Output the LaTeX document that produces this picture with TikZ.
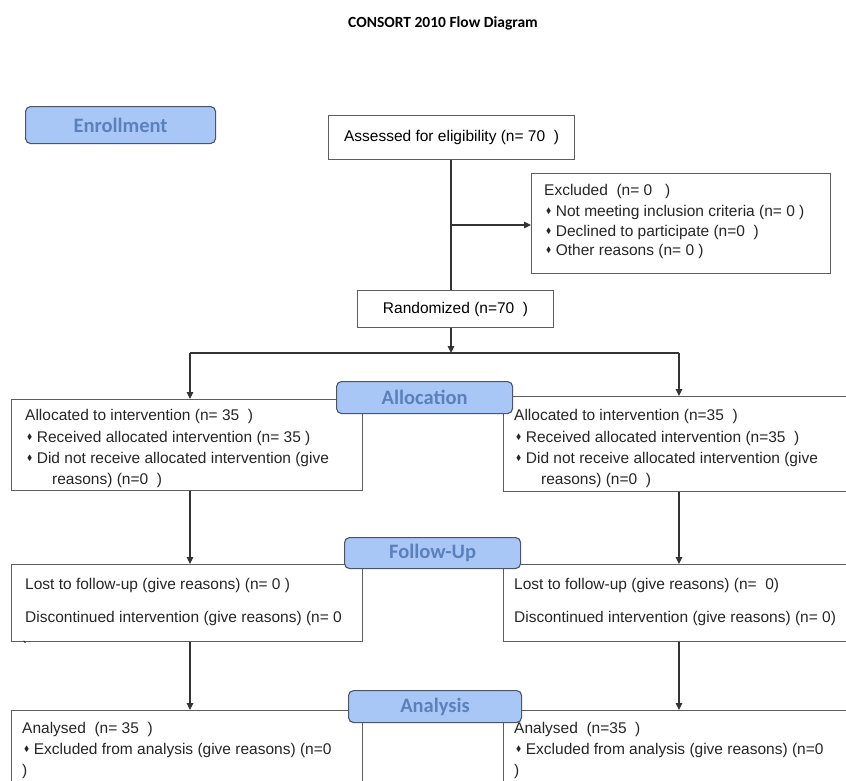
\documentclass[tikz,border=0pt]{standalone}
\usepackage{fontspec}
\usepackage{amssymb}
\setmainfont{Liberation Sans}
\newfontfamily\calfont{Carlito}
\usetikzlibrary{arrows.meta}
\definecolor{phasefill}{HTML}{A9C7F6}
\definecolor{phaseborder}{HTML}{4B5566}
\definecolor{phasetext}{HTML}{5A81BB}
\definecolor{linegray}{HTML}{333333}
\definecolor{boxgray}{HTML}{5E5E5E}
\newcommand{\dia}{\raisebox{0.28ex}{\scalebox{0.5}{$\blacklozenge$}}}
\newcommand{\bl}{\hspace{2pt}\dia\hspace{4.5pt}}
\tikzset{
  databox/.style={draw=boxgray, line width=1.1pt, fill=white, inner sep=0pt, anchor=north west},
  phasebox/.style={draw=phaseborder, fill=phasefill, rounded corners=5pt, line width=1.1pt,
    text=phasetext, font=\calfont\bfseries\fontsize{20.5}{22}\selectfont, inner sep=0pt, anchor=north west},
  txt/.style={anchor=west, inner sep=0pt, font=\fontsize{15.5}{17}\selectfont, text=black!85},
  arr/.style={draw=linegray, line width=1.1pt, -{Triangle[length=7pt,width=6.5pt]}},
  ln/.style={draw=linegray, line width=1.1pt}
}
\begin{document}
\begin{tikzpicture}[x=1pt, y=-1pt]
\path[use as bounding box] (0,0) rectangle (846,780);
\clip (0,0) rectangle (846,780);
\fill[white] (0,0) rectangle (846,780);

% title
\node[font=\calfont\bfseries\fontsize{15.5}{18}\selectfont, inner sep=0pt] (title) at (443,23) {CONSORT 2010 Flow Diagram};

% data boxes
\node[databox, minimum width=246pt, minimum height=44pt, font=\fontsize{15.5}{17}\selectfont] (assess) at (328,115) {Assessed for eligibility (n=~70~~)};
\node[databox, minimum width=299pt, minimum height=100pt] (excl) at (531,173) {};
\node[databox, minimum width=196pt, minimum height=37pt, font=\fontsize{15.5}{17}\selectfont] (rand) at (357,290) {Randomized (n=70~~)};
\node[databox, minimum width=351pt, minimum height=91pt] (allocL) at (11,399) {};
\node[databox, minimum width=380pt, minimum height=95pt] (allocR) at (503,396) {};
\node[databox, minimum width=351pt, minimum height=77pt] (fuL) at (11,564) {};
\node[databox, minimum width=380pt, minimum height=77pt] (fuR) at (503,564) {};
\node[databox, minimum width=351pt, minimum height=100pt] (anL) at (11,710) {};
\node[databox, minimum width=380pt, minimum height=100pt] (anR) at (503,710) {};

% connectors
\coordinate (spine) at (451,225);
\coordinate (split) at (451,353);
\coordinate (splitL) at (190,353);
\coordinate (splitR) at (679,353);
\draw[ln] (assess.south -| spine) -- (rand.north -| spine);
\draw[arr] (spine) -- (excl.west |- spine);
\draw[arr] (rand.south -| spine) -- (split);
\draw[ln] (splitL) -- (splitR);
\draw[arr] (splitL) -- (allocL.north -| splitL);
\draw[arr] (splitR) -- (allocR.north -| splitR);
\draw[arr] (allocL.south -| splitL) -- (fuL.north -| splitL);
\draw[arr] (allocR.south -| splitR) -- (fuR.north -| splitR);
\draw[arr] (fuL.south -| splitL) -- (anL.north -| splitL);
\draw[arr] (fuR.south -| splitR) -- (anR.north -| splitR);

% phase boxes
\node[phasebox, minimum width=190pt, minimum height=37pt] (enroll) at (25,106) {Enrollment};
\node[phasebox, minimum width=176pt, minimum height=32pt] (allocP) at (336,381) {Allocation};
\node[phasebox, minimum width=176pt, minimum height=31pt] (fuP) at (344,537) {Follow-Up};
\node[phasebox, minimum width=173pt, minimum height=32pt] (anP) at (348,690) {Analysis};

% excluded text
\node[txt] (ex1) at (544,191) {Excluded~~(n=~0~~~)};
\node[txt] (ex2) at (544,212) {\bl Not meeting inclusion criteria (n=~0~)};
\node[txt] (ex3) at (544,232) {\bl Declined to participate (n=0~~)};
\node[txt] (ex4) at (544,251) {\bl Other reasons (n=~0~)};

% allocation text
\node[txt] (al1) at (25,416) {Allocated to intervention (n=~35~~)};
\node[txt] (al2) at (25,438) {\bl Received allocated intervention (n=~35~)};
\node[txt] (al3) at (25,459) {\bl Did not receive allocated intervention (give};
\node[txt] (al4) at (52,480) {reasons) (n=0~~)};
\node[txt] (ar1) at (514,416) {Allocated to intervention (n=35~~)};
\node[txt] (ar2) at (514,438) {\bl Received allocated intervention (n=35~~)};
\node[txt] (ar3) at (514,459) {\bl Did not receive allocated intervention (give};
\node[txt] (ar4) at (541,480) {reasons) (n=0~~)};

% follow-up text
\node[txt] (fl1) at (25,585) {Lost to follow-up (give reasons) (n=~0~)};
\node[txt] (fl2) at (25,618) {Discontinued intervention (give reasons) (n=~0};
\begin{scope}
\clip (fuL.north west) rectangle (fuL.south east);
\node[txt] (fl3) at (23,648) {)};
\end{scope}
\node[txt] (fr1) at (514,585) {Lost to follow-up (give reasons) (n=~~0)};
\node[txt] (fr2) at (514,618) {Discontinued intervention (give reasons) (n=~0)};

% analysis text
\node[txt] (an1) at (22,729) {Analysed~~(n=~35~~)};
\node[txt] (an2) at (22,750) {\bl Excluded from analysis (give reasons) (n=0};
\node[txt] (an3) at (22,771) {)};
\node[txt] (anr1) at (514,729) {Analysed~~(n=35~~)};
\node[txt] (anr2) at (514,750) {\bl Excluded from analysis (give reasons) (n=0};
\node[txt] (anr3) at (514,771) {)};
\end{tikzpicture}
\end{document}
